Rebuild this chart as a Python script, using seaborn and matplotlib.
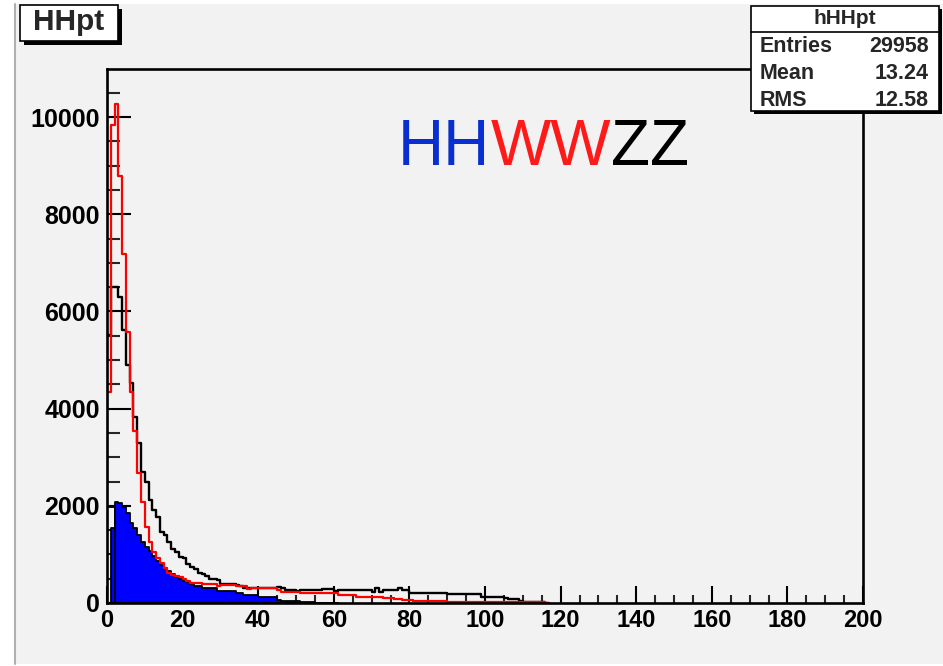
import numpy as np
import pandas as pd
import matplotlib
matplotlib.use("Agg")
import matplotlib.pyplot as plt
import seaborn as sns
from matplotlib.patches import Rectangle

# ---------------- data (1-GeV bins starting at 0; later bins are empty) -----
bin_edges = list(range(0, 201))
blue_counts = [0, 1536, 2085, 2064, 1982, 1845, 1640, 1536, 1400, 1260,
               1150, 1060, 960, 860, 790, 720, 650, 590, 545, 500,
               460, 430, 400, 360, 340, 310, 310, 310, 310, 240,
               240, 240, 240, 240, 200, 200, 165, 165, 165, 165,
               120, 120, 120, 120, 120, 60, 40, 40, 40, 40,
               40, 20, 20, 20, 20, 10, 10, 10, 10, 10]
box_counts = [1982, 1982]
black_counts = [5514, 6500, 6500, 6303, 5617, 4897, 4520, 3834, 3286, 2703,
                2497, 2119, 1914, 1776, 1470, 1400, 1260, 1120, 1050, 950,
                920, 800, 750, 700, 610, 600, 560, 500, 490, 470,
                400, 400, 400, 400, 370, 340, 300, 300, 300, 300,
                300, 300, 300, 300, 300, 330, 300, 270, 270, 260,
                240, 270, 267, 267, 267, 260, 270, 280, 281, 280,
                250, 267, 267, 267, 267, 267, 267, 267, 260, 267,
                233, 302, 233, 267, 267, 267, 267, 300, 260, 267,
                212, 212, 212, 212, 212, 212, 212, 212, 212, 212,
                179, 179, 179, 179, 179, 179, 179, 179, 179, 130,
                130, 130, 130, 130, 130, 96, 76, 76, 76, 41,
                27, 27, 27, 27, 27, 27]
red_counts = [4350, 9835, 10260, 8790, 7190, 5583, 4350, 3550, 2668, 2085,
              1570, 1262, 1056, 919, 816, 713, 610, 576, 555, 540,
              500, 450, 410, 410, 410, 390, 390, 390, 390, 350,
              370, 370, 370, 370, 340, 340, 340, 290, 300, 300,
              300, 300, 300, 300, 300, 270, 233, 233, 233, 233,
              233, 199, 199, 199, 199, 199, 199, 199, 199, 199,
              199, 165, 165, 165, 165, 165, 130, 130, 130, 130,
              130, 130, 130, 96, 96, 96, 74, 74, 62, 62,
              62, 48, 48, 48, 48, 48, 48, 48, 48, 48,
              27, 27, 27, 27, 27, 27, 27, 27, 27, 27,
              27, 27, 20, 20, 20, 20, 20, 20, 20, 20,
              20, 20, 20, 20, 20, 20]
x_ticks = [0, 20, 40, 60, 80, 100, 120, 140, 160, 180, 200]
y_ticks = [0, 2000, 4000, 6000, 8000, 10000]
title_text = "HHpt"
stats_name = "hHHpt"
stats_rows = [("Entries", "29958"), ("Mean", "13.24"), ("RMS", "12.58")]
label_parts = [("HH", "#0a2fd0"), ("WW", "#ff1a1a"), ("ZZ", "#000000")]

# ---------------- figure ---------------------------------------------------
W, H = 943, 666
sns.set_theme(style="ticks")
plt.rcParams["font.family"] = ["Liberation Sans", "DejaVu Sans"]

fig = plt.figure(figsize=(W / 100, H / 100), dpi=100, facecolor="white")


def fx(px):
    return px / W


def fy(py):
    return 1 - py / H


canvas_bg = "#f2f2f2"
fig.patches.append(Rectangle((fx(16), fy(664)), fx(W) - fx(16), fy(4) - fy(664),
                             transform=fig.transFigure, facecolor=canvas_bg,
                             edgecolor="none", zorder=-10))
fig.lines.append(plt.Line2D([fx(15), fx(15)], [fy(664), fy(4)],
                            transform=fig.transFigure, color="#b0b0b0", lw=1.5))

ax = fig.add_axes([fx(107), fy(603), fx(863) - fx(107), fy(69) - fy(603)])
ax.set_facecolor(canvas_bg)


def hist_frame(counts):
    """Bins covering the filled range plus one empty bin (closing drop)."""
    vals = list(counts) + [0]
    e = [float(v) for v in bin_edges[:len(vals) + 1]]
    c = [(a + b) / 2 for a, b in zip(e[:-1], e[1:])]
    return pd.DataFrame({"pt": c, "n": vals}), e


def draw(counts, **kws):
    frame, e = hist_frame(counts)
    sns.histplot(data=frame, x="pt", weights="n", bins=e, element="step",
                 ax=ax, **kws)


draw(blue_counts, fill=True, color="#0000ff", alpha=1.0, edgecolor="black",
     linewidth=1.3, zorder=2)
draw(box_counts, fill=False, color="black", linewidth=1.3, zorder=2)
draw(black_counts, fill=False, color="black", linewidth=1.7, zorder=3)
draw(red_counts, fill=False, color="#ff0000", linewidth=1.6, zorder=4)

ax.set_xlim(0, 200)
ax.set_ylim(0, 10990)
ax.set_xlabel("")
ax.set_ylabel("")
ax.set_xticks(x_ticks)
ax.set_xticks(np.arange(0, 201, 5), minor=True)
ax.set_yticks(y_ticks)
ax.set_yticks(np.arange(0, 10990, 500), minor=True)
ax.set_xticklabels([str(v) for v in x_ticks])
ax.set_yticklabels([str(v) for v in y_ticks])
ax.tick_params(axis="x", which="major", direction="in", length=12, width=1.5,
               pad=4, labelsize=17, colors="black")
ax.tick_params(axis="x", which="minor", direction="in", length=6, width=1.5)
ax.tick_params(axis="y", which="major", direction="in", length=17, width=1.5,
               pad=5, labelsize=18, colors="black")
ax.tick_params(axis="y", which="minor", direction="in", length=9, width=1.5)
for lab in ax.get_xticklabels() + ax.get_yticklabels():
    lab.set_fontweight("bold")
for s in ax.spines.values():
    s.set_color("black")
    s.set_linewidth(1.9)
    s.set_zorder(5)

# multicolour label
prev = ax.text(fx(398), fy(165), label_parts[0][0], transform=fig.transFigure,
               fontsize=46, color=label_parts[0][1], ha="left", va="baseline")
for txt, col in label_parts[1:]:
    prev = ax.annotate(txt, xy=(1, 0), xycoords=prev, fontsize=46, color=col,
                       ha="left", va="bottom")

# title box with shadow
fig.patches.append(Rectangle((fx(24), fy(45)), fx(122) - fx(24), fy(9) - fy(45),
                             transform=fig.transFigure, facecolor="black",
                             edgecolor="none", zorder=20))
fig.patches.append(Rectangle((fx(20), fy(41)), fx(118) - fx(20), fy(5) - fy(41),
                             transform=fig.transFigure, facecolor="white",
                             edgecolor="black", lw=1.2, zorder=21))
fig.text(fx(69), fy(22), title_text, fontsize=21.5, fontweight="bold",
         ha="center", va="center", zorder=22)

# stats box with shadow
bx0, by0, bx1, by1 = 751, 6, 939, 111
fig.patches.append(Rectangle((fx(bx0 + 3), fy(by1 + 3)), fx(bx1) - fx(bx0),
                             fy(by0) - fy(by1), transform=fig.transFigure,
                             facecolor="black", edgecolor="none", zorder=20))
fig.patches.append(Rectangle((fx(bx0), fy(by1)), fx(bx1) - fx(bx0),
                             fy(by0) - fy(by1), transform=fig.transFigure,
                             facecolor="white", edgecolor="black", lw=1.2,
                             zorder=21))
fig.lines.append(plt.Line2D([fx(bx0), fx(bx1)], [fy(32), fy(32)],
                            transform=fig.transFigure, color="black", lw=1.2,
                            zorder=22))
fig.text(fx((bx0 + bx1) / 2), fy(19), stats_name, fontsize=15, fontweight="bold",
         ha="center", va="center", zorder=23)
for i, (k, v) in enumerate(stats_rows):
    yy = fy(47 + i * 26.5)
    fig.text(fx(760), yy, k, fontsize=15.5, fontweight="bold", ha="left",
             va="center", zorder=23)
    fig.text(fx(929), yy, v, fontsize=15.5, fontweight="bold", ha="right",
             va="center", zorder=23)

fig.savefig("out.png", dpi=100, facecolor="white")
